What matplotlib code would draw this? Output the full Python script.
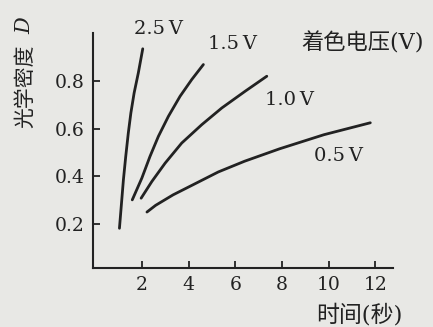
import matplotlib.pyplot as plt

# readings: time (s) vs optical density D
t_25 = [1.03, 1.13, 1.20, 1.30, 1.41, 1.52, 1.66, 1.84, 2.03]
d_25 = [0.182, 0.301, 0.385, 0.483, 0.581, 0.665, 0.749, 0.833, 0.934]

t_15 = [1.58, 1.99, 2.34, 2.70, 3.13, 3.63, 4.13, 4.63]
d_15 = [0.301, 0.392, 0.483, 0.567, 0.651, 0.735, 0.805, 0.868]

t_10 = [1.96, 2.42, 2.99, 3.70, 4.56, 5.42, 6.42, 7.35]
d_10 = [0.308, 0.378, 0.455, 0.539, 0.616, 0.686, 0.756, 0.819]

t_05 = [2.21, 2.58, 3.33, 4.20, 5.27, 6.40, 7.90, 9.80, 11.79]
d_05 = [0.250, 0.278, 0.322, 0.365, 0.418, 0.463, 0.515, 0.574, 0.624]

xticks = [2, 4, 6, 8, 10, 12]
yticks = [0.2, 0.4, 0.6, 0.8]

bg = '#e8e8e5'
ink = '#222222'
fam = ['DejaVu Serif', 'Noto Sans CJK SC']

fig = plt.figure(figsize=(4.33, 3.27), dpi=100, facecolor=bg)
ax = fig.add_axes([0.215, 0.180, 0.693, 0.719])
ax.set_facecolor(bg)

for t, d in [(t_25, d_25), (t_15, d_15), (t_10, d_10), (t_05, d_05)]:
    ax.plot(t, d, color=ink, lw=2.0, solid_capstyle='round', solid_joinstyle='round')

ax.set_xlim(-0.1, 12.77)
ax.set_ylim(0.015, 1.0)
ax.spines['top'].set_visible(False)
ax.spines['right'].set_visible(False)
for s in ['left', 'bottom']:
    ax.spines[s].set_linewidth(1.5)
    ax.spines[s].set_color(ink)

ax.set_xticks(xticks)
ax.set_xticklabels([str(v) for v in xticks], family='DejaVu Serif', fontsize=13.5, color=ink)
ax.set_yticks(yticks)
ax.set_yticklabels(['%.1f' % v for v in yticks], family='DejaVu Serif', fontsize=13.5, color=ink)
ax.tick_params(direction='in', length=5, width=1.3, color=ink, pad=6)

# curve labels
lab = dict(family='DejaVu Serif', fontsize=14, color=ink, ha='center', va='center')
ax.text(2.69, 1.015, '2.5\u2009V', **lab)
ax.text(5.87, 0.956, '1.5\u2009V', **lab)
ax.text(8.31, 0.721, '1.0\u2009V', **lab)
ax.text(10.41, 0.486, '0.5\u2009V', **lab)
ax.text(11.48, 0.956, '着色电压(V)', family=fam, fontsize=16, color=ink, ha='center', va='center')

# y label: CJK part and italic D as separate texts
fig.text(25 / 433, 1 - 86 / 327, '光学密度', family=fam, fontsize=15, color=ink,
         rotation=90, ha='center', va='center')
fig.text(25 / 433, 1 - 26 / 327, 'D', family='DejaVu Serif', style='italic', fontsize=15,
         color=ink, rotation=90, ha='center', va='center')
fig.text(359 / 433, 1 - 315 / 327, '时间(秒)', family=fam, fontsize=16.5, color=ink,
         ha='center', va='center')

fig.savefig('out.png', dpi=100, facecolor=bg)
